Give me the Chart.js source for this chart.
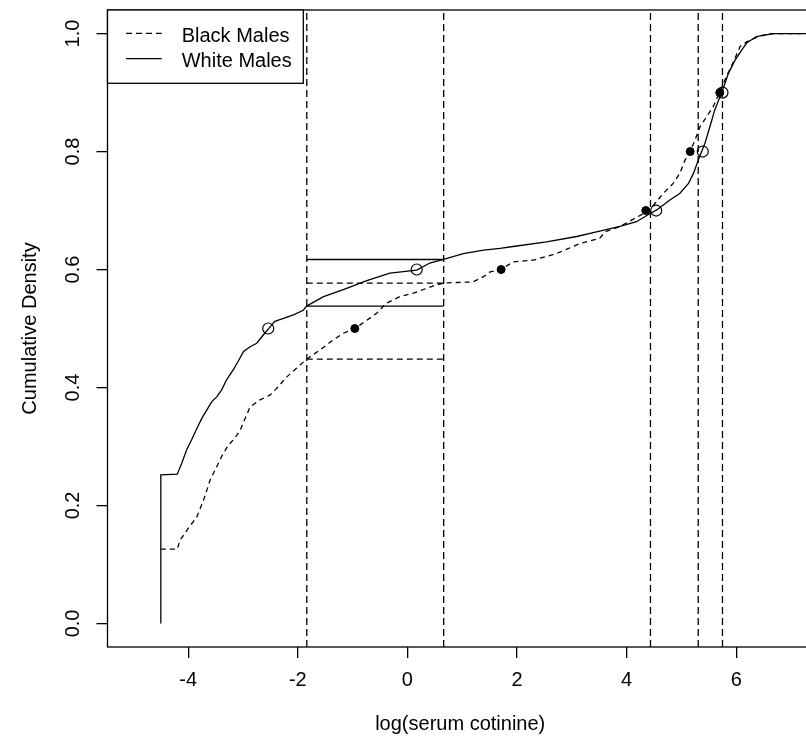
<!DOCTYPE html>
<html>
<head>
<meta charset="utf-8">
<script src="https://cdn.jsdelivr.net/npm/chart.js@4/dist/chart.umd.min.js"></script>
<style>
  html, body { margin: 0; padding: 0; background: #fff; overflow: hidden; }
  #wrap { width: 806px; height: 747px; }
</style>
</head>
<body>
<div id="wrap"><canvas id="c" width="806" height="747"></canvas></div>
<script>
// ---------- data ----------
const xTicks = [-4, -2, 0, 2, 4, 6];
const yTicks = [0, 0.2, 0.4, 0.6, 0.8, 1.0];
const seriesNames = ['Black Males', 'White Males'];
const xTitle = 'log(serum cotinine)';
const yTitle = 'Cumulative Density';

// White males ECDF (solid)
const whiteX = [-4.50,-4.50,-4.20,-4.12,-4.03,-3.94,-3.84,-3.75,-3.66,-3.57,-3.48,-3.39,-3.30,-3.18,-3.09,-2.99,-2.87,-2.75,-2.63,-2.54,-2.42,-2.26,-2.08,-1.90,-1.84,-1.53,-1.17,-0.74,-0.32,0.17,0.41,0.66,1.02,1.39,1.69,1.93,2.54,3.09,3.45,3.88,4.18,4.43,4.55,4.79,4.97,5.13,5.22,5.31,5.37,5.43,5.52,5.61,5.74,5.86,5.98,6.10,6.19,6.37,6.68,7.40];
const whiteY = [0,0.252,0.253,0.271,0.294,0.311,0.331,0.348,0.362,0.376,0.384,0.396,0.413,0.430,0.444,0.461,0.469,0.475,0.489,0.499,0.512,0.517,0.523,0.531,0.538,0.554,0.566,0.581,0.594,0.599,0.611,0.617,0.627,0.633,0.636,0.639,0.647,0.656,0.664,0.673,0.681,0.695,0.701,0.718,0.729,0.746,0.763,0.786,0.800,0.814,0.842,0.871,0.901,0.933,0.955,0.972,0.984,0.995,1.0,1.0];

// Black males ECDF (dashed)
const blackX = [-4.50,-4.20,-4.15,-4.00,-3.84,-3.72,-3.60,-3.51,-3.39,-3.27,-3.15,-3.05,-2.96,-2.87,-2.69,-2.51,-2.36,-2.20,-2.02,-1.84,-1.59,-1.35,-1.17,-0.96,-0.74,-0.56,-0.38,-0.14,0.11,0.35,0.53,0.66,0.90,1.20,1.39,1.51,1.71,1.93,2.30,2.72,3.15,3.51,3.61,3.88,4.37,4.49,4.67,4.85,4.97,5.07,5.16,5.25,5.34,5.46,5.58,5.70,5.83,5.95,6.07,6.19,6.43,6.61,7.40];
const blackY = [0.126,0.126,0.141,0.161,0.181,0.209,0.243,0.260,0.283,0.302,0.314,0.328,0.348,0.367,0.379,0.387,0.401,0.418,0.433,0.448,0.464,0.481,0.492,0.500,0.514,0.526,0.543,0.554,0.560,0.568,0.574,0.577,0.578,0.579,0.588,0.596,0.600,0.613,0.616,0.627,0.644,0.653,0.664,0.673,0.698,0.709,0.729,0.746,0.763,0.786,0.800,0.820,0.842,0.859,0.876,0.901,0.929,0.952,0.978,0.986,0.996,1.0,1.0];

// Quantile markers
const probs  = [0.5, 0.6, 0.7, 0.8, 0.9];
const whiteQ = [-2.54, 0.17, 4.54, 5.39, 5.75];   // open circles
const blackQ = [-0.96, 1.71, 4.35, 5.16, 5.70];   // filled dots

// Reference lines
const vLines = [-1.836, 0.662, 4.436, 5.307, 5.75];
const whiteAtV = [0.538, 0.617];   // solid horizontal segments
const blackAtV = [0.448, 0.577];   // dashed horizontal segments

// axis limits (picture is cut at the right edge of the canvas)
const xMin = -5.473, xMax = 7.274, yMin = -0.04, yMax = 1.04;
const xPlotEnd = 7.40; // right end of the original plot region (off-picture)

// ---------- build datasets ----------
const FONT = '"Liberation Sans", Arial, Helvetica, sans-serif';
const zip = (xs, ys) => xs.map((x, i) => ({ x: x, y: ys[i] }));

const vData = [];
vLines.forEach((v, i) => {
  if (i) vData.push({ x: v, y: null });
  vData.push({ x: v, y: yMin }, { x: v, y: yMax });
});
const segs = (ys) => {
  const out = [];
  ys.forEach((y, i) => {
    if (i) out.push({ x: vLines[0], y: null });
    out.push({ x: vLines[0], y: y }, { x: vLines[1], y: y });
  });
  return out;
};

const LW = 1.3;
const datasets = [
  { label: 'white q', data: zip(whiteQ, probs), showLine: false, pointRadius: 5.5,
    pointBorderColor: '#000', pointBackgroundColor: 'rgba(0,0,0,0)', pointBorderWidth: 1.2 },
  { label: 'black q', data: zip(blackQ, probs), showLine: false, pointRadius: 4,
    pointBorderColor: '#000', pointBackgroundColor: '#000', pointBorderWidth: 1 },
  { label: seriesNames[1], data: zip(whiteX, whiteY), showLine: true, pointRadius: 0,
    borderColor: '#000', borderWidth: LW, tension: 0 },
  { label: seriesNames[0], data: zip(blackX, blackY), showLine: true, pointRadius: 0,
    borderColor: '#000', borderWidth: LW, borderDash: [5, 4], tension: 0 },
  { label: 'vlines', data: vData, showLine: true, pointRadius: 0, spanGaps: false,
    borderColor: '#000', borderWidth: LW, borderDash: [7, 4] },
  { label: 'white h', data: segs(whiteAtV), showLine: true, pointRadius: 0, spanGaps: false,
    borderColor: '#000', borderWidth: LW },
  { label: 'black h', data: segs(blackAtV), showLine: true, pointRadius: 0, spanGaps: false,
    borderColor: '#000', borderWidth: LW, borderDash: [6, 4] }
];

// ---------- R-style box, x title + legend ----------
const rPlugin = {
  id: 'rstyle',
  afterDraw(chart) {
    const ctx = chart.ctx;
    const a = chart.chartArea;
    const xs = chart.scales.x;
    ctx.save();
    ctx.strokeStyle = '#000';
    ctx.lineWidth = LW;
    ctx.setLineDash([]);
    ctx.strokeRect(a.left, a.top, a.right - a.left + 20, a.bottom - a.top);

    // x-axis title, centred on the full (cut) plot region like R does
    ctx.font = '20px ' + FONT;
    ctx.fillStyle = '#000';
    ctx.textAlign = 'center';
    ctx.textBaseline = 'middle';
    const cx = (a.left + xs.getPixelForValue(xPlotEnd)) / 2;
    ctx.fillText(xTitle, cx, a.bottom + 77);

    // legend (top-left)
    const lx = a.left, ly = a.top, lw = 195.8, lh = 73.3;
    ctx.fillStyle = '#fff';
    ctx.fillRect(lx, ly, lw, lh);
    ctx.strokeRect(lx, ly, lw, lh);
    const rows = [
      { name: seriesNames[0], dash: [6, 4], y: ly + 23.3, base: ly + 32.3 },
      { name: seriesNames[1], dash: [], y: ly + 48.7, base: ly + 57.2 }
    ];
    ctx.textAlign = 'left';
    ctx.textBaseline = 'alphabetic';
    rows.forEach(r => {
      ctx.beginPath();
      ctx.setLineDash(r.dash);
      ctx.moveTo(lx + 18.5, r.y);
      ctx.lineTo(lx + 54.2, r.y);
      ctx.stroke();
      ctx.setLineDash([]);
      ctx.fillStyle = '#000';
      ctx.fillText(r.name, lx + 74.2, r.base);
    });
    ctx.restore();
  }
};

new Chart(document.getElementById('c'), {
  type: 'scatter',
  data: { datasets: datasets },
  options: {
    responsive: false,
    animation: false,
    events: [],
    layout: { autoPadding: false, padding: { top: 10, right: 0, bottom: 0, left: 0 } },
    plugins: { legend: { display: false }, tooltip: { enabled: false } },
    scales: {
      x: {
        type: 'linear', min: xMin, max: xMax,
        afterBuildTicks: s => { s.ticks = xTicks.map(v => ({ value: v })); },
        afterFit: s => { s.height = 100; s.paddingLeft = 0; s.paddingRight = 0; },
        grid: { display: true, drawOnChartArea: false, drawTicks: true, tickLength: 11,
                color: '#000', lineWidth: LW },
        border: { display: false },
        ticks: { color: '#000', font: { family: FONT, size: 20 }, padding: 10,
                 maxRotation: 0, minRotation: 0, autoSkip: false,
                 callback: v => String(v) },
        title: { display: false }
      },
      y: {
        type: 'linear', min: yMin, max: yMax,
        afterBuildTicks: s => { s.ticks = yTicks.map(v => ({ value: v })); },
        afterFit: s => { s.width = 107.5; s.paddingTop = 0; s.paddingBottom = 0; },
        grid: { display: true, drawOnChartArea: false, drawTicks: true, tickLength: 11,
                color: '#000', lineWidth: LW },
        border: { display: false },
        ticks: { color: '#000', font: { family: FONT, size: 20 }, padding: 9,
                 minRotation: 90, maxRotation: 90, crossAlign: 'center', autoSkip: false,
                 callback: v => Number(v).toFixed(1) },
        title: { display: true, text: yTitle, color: '#000',
                 font: { family: FONT, size: 20 }, padding: { top: 18, bottom: 0 } }
      }
    }
  },
  plugins: [rPlugin]
});
</script>
</body>
</html>
